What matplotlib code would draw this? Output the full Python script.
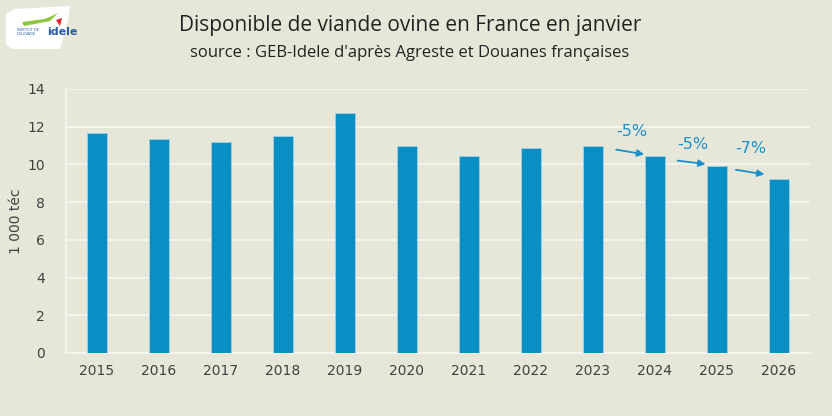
import matplotlib
matplotlib.use("Agg")
import matplotlib.pyplot as plt
from matplotlib.patches import Polygon

years = ["2015", "2016", "2017", "2018", "2019", "2020", "2021", "2022", "2023", "2024", "2025", "2026"]
values = [11.67, 11.35, 11.19, 11.5, 12.72, 10.98, 10.45, 10.87, 10.98, 10.45, 9.92, 9.23]
changes = ["-5%", "-5%", "-7%"]
change_text_pos = [(8.63, 11.74), (9.61, 11.08), (10.55, 10.85)]
arrows = [((8.33, 10.81), (8.87, 10.51)),
          ((9.32, 10.22), (9.86, 10.00)),
          ((10.26, 9.74), (10.81, 9.45))]

bg = "#e7e7d9"
bar_color = "#0a8fc4"
txt = "#404040"

plt.rcParams['font.family'] = ['DejaVu Sans']

W, H = 832, 416
fig = plt.figure(figsize=(8.32, 4.16), dpi=100, facecolor=bg)
ax = fig.add_axes([66/W, 1-353/H, (810-66)/W, (353-89)/H])
ax.set_facecolor(bg)

x = list(range(len(years)))
ax.bar(x, values, width=0.32, color=bar_color, edgecolor="#9fd0e6", linewidth=0.6, zorder=3)

ax.set_xlim(-0.5, len(years)-0.5)
ax.set_ylim(0, 14)
ax.set_yticks(range(0, 15, 2))
ax.set_xticks(x)
ax.set_xticklabels(years)
ax.grid(axis='y', color='#f7f7f0', linewidth=1.2, zorder=0)
for s in ['top', 'right']:
    ax.spines[s].set_visible(False)
for s in ['left', 'bottom']:
    ax.spines[s].set_color('#f7f7f0')
    ax.spines[s].set_linewidth(1.2)
ax.tick_params(axis='both', length=0, labelsize=10, colors=txt, pad=8)
ax.tick_params(axis='y', pad=15)
ax.set_ylabel("1 000 téc", fontsize=10, color=txt)
ax.yaxis.set_label_coords(-0.058, 0.5)

for (t, pos) in zip(changes, change_text_pos):
    ax.text(pos[0], pos[1], t, color="#1b8fca", fontsize=11.5, ha='center', va='center', zorder=5)
for (s, e) in arrows:
    ax.annotate("", xy=e, xytext=s,
                arrowprops=dict(arrowstyle="-|>", color="#1b8fca", lw=1.3, mutation_scale=10), zorder=5)

fig.text(410/W, 1-25/H, "Disponible de viande ovine en France en janvier",
         ha='center', va='center', fontsize=15, color='#222222', family='Open Sans')
fig.text(410/W, 1-53/H, "source : GEB-Idele d'après Agreste et Douanes françaises",
         ha='center', va='center', fontsize=12, color='#222222', family='Open Sans')

# logo approximation
def fp(px, py):
    return (px/W, 1-py/H)
logo = Polygon([fp(6, 14), fp(14, 9), fp(70, 6), fp(68, 20), fp(60, 49), fp(12, 49), fp(6, 44)],
               closed=True, transform=fig.transFigure, facecolor='white', edgecolor='none')
fig.patches.append(logo)
swoosh = Polygon([fp(22, 22), fp(45, 19), fp(58, 13), fp(50, 21), fp(24, 26)],
                 closed=True, transform=fig.transFigure, facecolor='#8cc63f', edgecolor='none')
fig.patches.append(swoosh)
red = Polygon([fp(56, 20), fp(62, 18), fp(60, 26)], closed=True, transform=fig.transFigure,
              facecolor='#e2242b', edgecolor='none')
fig.patches.append(red)
fig.text(*fp(47, 32), "idele", ha='left', va='center', fontsize=8, fontweight='bold', color='#2a5aa8')
fig.text(*fp(17, 32), "INSTITUT DE\nL'ÉLEVAGE", ha='left', va='center', fontsize=2.5, color='#2a5aa8',
         linespacing=1.0)

fig.savefig("out.png", dpi=100, facecolor=bg)
